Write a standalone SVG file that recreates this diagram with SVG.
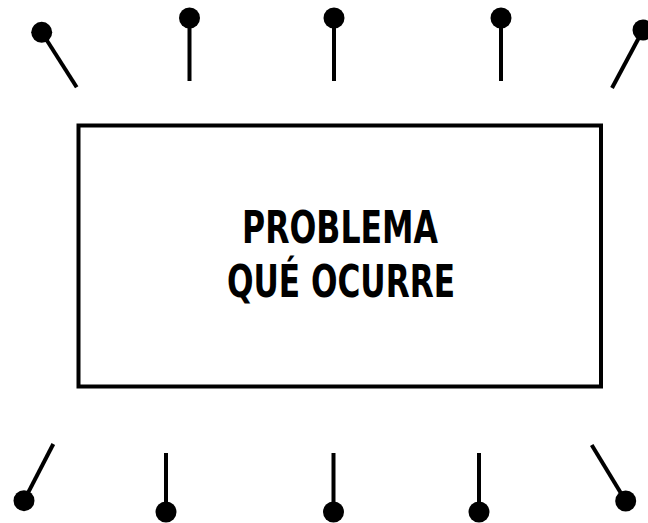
<svg xmlns="http://www.w3.org/2000/svg" width="648" height="523" viewBox="0 0 648 523">
<style>
.pin line{stroke:#000;stroke-width:4;stroke-linecap:butt}
.pin circle{fill:#000}
.lbl{font-family:"DejaVu Sans Condensed","DejaVu Sans",sans-serif;font-weight:bold;font-size:44px;fill:#000;text-anchor:middle}
</style>
<rect width="648" height="523" fill="#fff"/>
<g id="problem">
<rect x="78.5" y="125.5" width="522.5" height="261" fill="none" stroke="#000" stroke-width="4"/>
<text class="lbl" x="340" y="243" textLength="196" lengthAdjust="spacingAndGlyphs">PROBLEMA</text>
<text class="lbl" x="341" y="297" textLength="228" lengthAdjust="spacingAndGlyphs">QUÉ OCURRE</text>
</g>
<g id="connectors">
<g id="pin-t1" class="pin"><line x1="41.7" y1="32.3" x2="76.7" y2="87.3"/><circle cx="41.7" cy="32.3" r="10.5"/></g>
<g id="pin-t2" class="pin"><line x1="189.5" y1="18" x2="189.5" y2="81"/><circle cx="189.5" cy="18" r="10.5"/></g>
<g id="pin-t3" class="pin"><line x1="334" y1="18" x2="334" y2="81"/><circle cx="334" cy="18" r="10.5"/></g>
<g id="pin-t4" class="pin"><line x1="501" y1="18" x2="501" y2="81"/><circle cx="501" cy="18" r="10.5"/></g>
<g id="pin-t5" class="pin"><line x1="643" y1="30" x2="612" y2="88"/><circle cx="643" cy="30" r="10.5"/></g>
<g id="pin-b1" class="pin"><line x1="24" y1="500.7" x2="53.3" y2="444"/><circle cx="24" cy="500.7" r="10.5"/></g>
<g id="pin-b2" class="pin"><line x1="166" y1="512" x2="166" y2="453"/><circle cx="166" cy="512" r="10.5"/></g>
<g id="pin-b3" class="pin"><line x1="333.5" y1="512" x2="333.5" y2="453"/><circle cx="333.5" cy="512" r="10.5"/></g>
<g id="pin-b4" class="pin"><line x1="479" y1="512" x2="479" y2="453"/><circle cx="479" cy="512" r="10.5"/></g>
<g id="pin-b5" class="pin"><line x1="625.7" y1="501" x2="591.7" y2="445"/><circle cx="625.7" cy="501" r="10.5"/></g>
</g>
</svg>
